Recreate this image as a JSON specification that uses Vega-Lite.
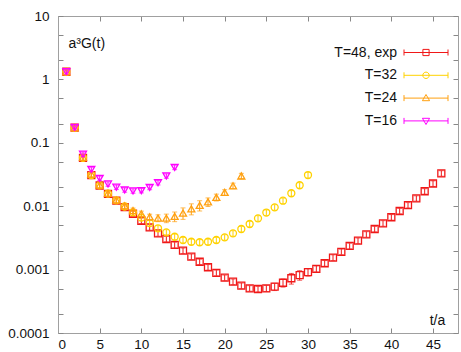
{
  "$schema": "https://vega.github.io/schema/vega-lite/v6.json",
  "width": 400,
  "height": 317,
  "autosize": {"type": "none"},
  "padding": {"left": 58, "top": 16, "right": 3, "bottom": 19},
  "background": "white",
  "config": {
    "font": "Liberation Sans",
    "view": {"stroke": "#a0a0a0", "strokeWidth": 1},
    "axis": {"grid": false, "domainColor": "#a0a0a0", "tickColor": "#888888", "labelColor": "#111", "labelFont": "Liberation Sans", "labelFontSize": 13.5, "titleFont": "Liberation Sans", "titleFontSize": 14, "titleFontWeight": "normal", "titleColor": "#111"},
    "legend": {"labelFont": "Liberation Sans", "labelFontSize": 14, "labelColor": "#111", "labelAlign": "right", "labelOffset": -39.5, "symbolSize": 400, "symbolStrokeWidth": 1, "rowPadding": 4.8, "padding": 0}
  },
  "data": {"values": [
    {"s": "T=48, exp", "t": 1, "g": 1.32, "dg": 0.13},
    {"s": "T=48, exp", "t": 2, "g": 0.173, "dg": 0.017},
    {"s": "T=48, exp", "t": 3, "g": 0.058, "dg": 0.0058},
    {"s": "T=48, exp", "t": 4, "g": 0.031, "dg": 0.0031},
    {"s": "T=48, exp", "t": 5, "g": 0.0212, "dg": 0.0021},
    {"s": "T=48, exp", "t": 6, "g": 0.0157, "dg": 0.0016},
    {"s": "T=48, exp", "t": 7, "g": 0.0122, "dg": 0.0012},
    {"s": "T=48, exp", "t": 8, "g": 0.0097, "dg": 0.001},
    {"s": "T=48, exp", "t": 9, "g": 0.0076, "dg": 0.00076},
    {"s": "T=48, exp", "t": 10, "g": 0.0059, "dg": 0.00059},
    {"s": "T=48, exp", "t": 11, "g": 0.00465, "dg": 0.00047},
    {"s": "T=48, exp", "t": 12, "g": 0.00373, "dg": 0.00037},
    {"s": "T=48, exp", "t": 13, "g": 0.00304, "dg": 0.0003},
    {"s": "T=48, exp", "t": 14, "g": 0.00245, "dg": 0.00025},
    {"s": "T=48, exp", "t": 15, "g": 0.00199, "dg": 0.0002},
    {"s": "T=48, exp", "t": 16, "g": 0.0016, "dg": 0.00016},
    {"s": "T=48, exp", "t": 17, "g": 0.00133, "dg": 0.00013},
    {"s": "T=48, exp", "t": 18, "g": 0.00109, "dg": 0.00011},
    {"s": "T=48, exp", "t": 19, "g": 0.00089, "dg": 0.00009},
    {"s": "T=48, exp", "t": 20, "g": 0.000745, "dg": 0.000075},
    {"s": "T=48, exp", "t": 21, "g": 0.000645, "dg": 0.000065},
    {"s": "T=48, exp", "t": 22, "g": 0.000557, "dg": 0.000056},
    {"s": "T=48, exp", "t": 23, "g": 0.000507, "dg": 0.000051},
    {"s": "T=48, exp", "t": 24, "g": 0.000494, "dg": 0.00005},
    {"s": "T=48, exp", "t": 25, "g": 0.000507, "dg": 0.000055},
    {"s": "T=48, exp", "t": 26, "g": 0.000537, "dg": 0.00007},
    {"s": "T=48, exp", "t": 27, "g": 0.00062, "dg": 0.00009},
    {"s": "T=48, exp", "t": 28, "g": 0.00073, "dg": 0.00014},
    {"s": "T=48, exp", "t": 29, "g": 0.00082, "dg": 0.00014},
    {"s": "T=48, exp", "t": 30, "g": 0.00091, "dg": 0.00012},
    {"s": "T=48, exp", "t": 31, "g": 0.00103, "dg": 0.00011},
    {"s": "T=48, exp", "t": 32, "g": 0.00126, "dg": 0.00013},
    {"s": "T=48, exp", "t": 33, "g": 0.00155, "dg": 0.00016},
    {"s": "T=48, exp", "t": 34, "g": 0.00191, "dg": 0.00019},
    {"s": "T=48, exp", "t": 35, "g": 0.00236, "dg": 0.00024},
    {"s": "T=48, exp", "t": 36, "g": 0.00286, "dg": 0.00029},
    {"s": "T=48, exp", "t": 37, "g": 0.0036, "dg": 0.00036},
    {"s": "T=48, exp", "t": 38, "g": 0.00437, "dg": 0.00044},
    {"s": "T=48, exp", "t": 39, "g": 0.00537, "dg": 0.00054},
    {"s": "T=48, exp", "t": 40, "g": 0.0067, "dg": 0.00067},
    {"s": "T=48, exp", "t": 41, "g": 0.0084, "dg": 0.00084},
    {"s": "T=48, exp", "t": 42, "g": 0.0104, "dg": 0.001},
    {"s": "T=48, exp", "t": 43, "g": 0.0133, "dg": 0.0013},
    {"s": "T=48, exp", "t": 44, "g": 0.0172, "dg": 0.0017},
    {"s": "T=48, exp", "t": 45, "g": 0.0228, "dg": 0.0023},
    {"s": "T=48, exp", "t": 46, "g": 0.033, "dg": 0.0033},
    {"s": "T=32", "t": 1, "g": 1.32, "dg": 0.13},
    {"s": "T=32", "t": 2, "g": 0.173, "dg": 0.017},
    {"s": "T=32", "t": 3, "g": 0.058, "dg": 0.0058},
    {"s": "T=32", "t": 4, "g": 0.031, "dg": 0.0031},
    {"s": "T=32", "t": 5, "g": 0.0213, "dg": 0.0021},
    {"s": "T=32", "t": 6, "g": 0.0158, "dg": 0.0016},
    {"s": "T=32", "t": 7, "g": 0.0124, "dg": 0.0012},
    {"s": "T=32", "t": 8, "g": 0.0099, "dg": 0.001},
    {"s": "T=32", "t": 9, "g": 0.008, "dg": 0.0008},
    {"s": "T=32", "t": 10, "g": 0.0066, "dg": 0.00066},
    {"s": "T=32", "t": 11, "g": 0.0054, "dg": 0.00054},
    {"s": "T=32", "t": 12, "g": 0.00448, "dg": 0.00045},
    {"s": "T=32", "t": 13, "g": 0.00387, "dg": 0.00039},
    {"s": "T=32", "t": 14, "g": 0.0033, "dg": 0.00033},
    {"s": "T=32", "t": 15, "g": 0.00293, "dg": 0.00029},
    {"s": "T=32", "t": 16, "g": 0.00275, "dg": 0.00028},
    {"s": "T=32", "t": 17, "g": 0.0027, "dg": 0.00027},
    {"s": "T=32", "t": 18, "g": 0.00275, "dg": 0.00028},
    {"s": "T=32", "t": 19, "g": 0.00293, "dg": 0.00029},
    {"s": "T=32", "t": 20, "g": 0.00323, "dg": 0.00032},
    {"s": "T=32", "t": 21, "g": 0.00373, "dg": 0.00037},
    {"s": "T=32", "t": 22, "g": 0.00437, "dg": 0.00044},
    {"s": "T=32", "t": 23, "g": 0.00524, "dg": 0.00052},
    {"s": "T=32", "t": 24, "g": 0.00644, "dg": 0.00064},
    {"s": "T=32", "t": 25, "g": 0.00794, "dg": 0.00079},
    {"s": "T=32", "t": 26, "g": 0.0096, "dg": 0.00096},
    {"s": "T=32", "t": 27, "g": 0.0122, "dg": 0.0012},
    {"s": "T=32", "t": 28, "g": 0.016, "dg": 0.0016},
    {"s": "T=32", "t": 29, "g": 0.0214, "dg": 0.0021},
    {"s": "T=32", "t": 30, "g": 0.031, "dg": 0.0031},
    {"s": "T=24", "t": 1, "g": 1.32, "dg": 0.13},
    {"s": "T=24", "t": 2, "g": 0.173, "dg": 0.017},
    {"s": "T=24", "t": 3, "g": 0.059, "dg": 0.0059},
    {"s": "T=24", "t": 4, "g": 0.032, "dg": 0.0032},
    {"s": "T=24", "t": 5, "g": 0.0215, "dg": 0.0021},
    {"s": "T=24", "t": 6, "g": 0.016, "dg": 0.0016},
    {"s": "T=24", "t": 7, "g": 0.0125, "dg": 0.0012},
    {"s": "T=24", "t": 8, "g": 0.0101, "dg": 0.001},
    {"s": "T=24", "t": 9, "g": 0.0085, "dg": 0.00085},
    {"s": "T=24", "t": 10, "g": 0.0076, "dg": 0.00076},
    {"s": "T=24", "t": 11, "g": 0.0068, "dg": 0.00068},
    {"s": "T=24", "t": 12, "g": 0.0065, "dg": 0.0008},
    {"s": "T=24", "t": 13, "g": 0.0065, "dg": 0.001},
    {"s": "T=24", "t": 14, "g": 0.0069, "dg": 0.0012},
    {"s": "T=24", "t": 15, "g": 0.0078, "dg": 0.0016},
    {"s": "T=24", "t": 16, "g": 0.0091, "dg": 0.0018},
    {"s": "T=24", "t": 17, "g": 0.0103, "dg": 0.0019},
    {"s": "T=24", "t": 18, "g": 0.0117, "dg": 0.0018},
    {"s": "T=24", "t": 19, "g": 0.0138, "dg": 0.0017},
    {"s": "T=24", "t": 20, "g": 0.0165, "dg": 0.0017},
    {"s": "T=24", "t": 21, "g": 0.021, "dg": 0.0021},
    {"s": "T=24", "t": 22, "g": 0.03, "dg": 0.003},
    {"s": "T=16", "t": 1, "g": 1.32, "dg": 0.1},
    {"s": "T=16", "t": 2, "g": 0.175, "dg": 0.014},
    {"s": "T=16", "t": 3, "g": 0.066, "dg": 0.0053},
    {"s": "T=16", "t": 4, "g": 0.038, "dg": 0.003},
    {"s": "T=16", "t": 5, "g": 0.0275, "dg": 0.0022},
    {"s": "T=16", "t": 6, "g": 0.0224, "dg": 0.0018},
    {"s": "T=16", "t": 7, "g": 0.0199, "dg": 0.0016},
    {"s": "T=16", "t": 8, "g": 0.018, "dg": 0.0014},
    {"s": "T=16", "t": 9, "g": 0.0174, "dg": 0.0014},
    {"s": "T=16", "t": 10, "g": 0.0176, "dg": 0.0014},
    {"s": "T=16", "t": 11, "g": 0.0198, "dg": 0.0016},
    {"s": "T=16", "t": 12, "g": 0.0235, "dg": 0.0019},
    {"s": "T=16", "t": 13, "g": 0.03, "dg": 0.0024},
    {"s": "T=16", "t": 14, "g": 0.041, "dg": 0.0033}
  ]},
  "encoding": {
    "x": {"field": "t", "type": "quantitative", "scale": {"domain": [0, 48], "nice": false, "zero": false},
      "axis": {"values": [0, 5, 10, 15, 20, 25, 30, 35, 40, 45], "tickSize": -5, "labelPadding": 9, "title": "t/a", "titleX": 379, "titleY": -9, "titleAlign": "center", "titleBaseline": "alphabetic", "titleAnchor": null}},
    "y": {"field": "g", "type": "quantitative", "scale": {"type": "log", "domain": [0.0001, 10], "nice": false},
      "axis": {"values": [0.0001, 0.0002, 0.0005, 0.001, 0.002, 0.005, 0.01, 0.02, 0.05, 0.1, 0.2, 0.5, 1, 2, 5, 10], "format": "~g", "labelExpr": "indexof(['0.0001','0.001','0.01','0.1','1','10'], datum.label) >= 0 ? datum.label : ''", "tickSize": -5, "labelPadding": 14, "title": "a³G(t)", "titleAngle": 0, "titleX": 10, "titleY": 31, "titleAlign": "left", "titleBaseline": "alphabetic", "titleAnchor": null}}
  },
  "resolve": {"axis": {"x": "independent", "y": "independent"}},
  "layer": [
    {
      "encoding": {
        "color": {"field": "s", "type": "nominal", "scale": {"domain": ["T=48, exp", "T=32", "T=24", "T=16"], "range": ["#f01818", "#ffd200", "#ffa010", "#ff00ff"]},
          "legend": {"orient": "none", "legendX": 357.5, "legendY": 26, "direction": "vertical", "title": null}}
      },
      "layer": [
        {"transform": [{"filter": "datum.s == 'T=48, exp'"}], "mark": {"type": "errorbar", "ticks": {"size": 5}, "thickness": 1, "color": "#f01818"}, "encoding": {"color": {"value": "#f01818"}, "yError": {"field": "dg"}}},
        {"transform": [{"filter": "datum.s == 'T=48, exp'"}], "mark": {"type": "point", "shape": "square", "filled": false, "size": 49, "strokeWidth": 1.3, "opacity": 1}},
        {"transform": [{"filter": "datum.s == 'T=32'"}], "mark": {"type": "errorbar", "ticks": {"size": 5}, "thickness": 1, "color": "#ffd200"}, "encoding": {"color": {"value": "#ffd200"}, "yError": {"field": "dg"}}},
        {"transform": [{"filter": "datum.s == 'T=32'"}], "mark": {"type": "point", "shape": "circle", "filled": false, "size": 49, "strokeWidth": 1.3, "opacity": 1}},
        {"transform": [{"filter": "datum.s == 'T=24'"}], "mark": {"type": "errorbar", "ticks": {"size": 5}, "thickness": 1, "color": "#ffa010"}, "encoding": {"color": {"value": "#ffa010"}, "yError": {"field": "dg"}}},
        {"transform": [{"filter": "datum.s == 'T=24'"}], "mark": {"type": "point", "shape": "triangle-up", "filled": false, "size": 49, "strokeWidth": 1.3, "opacity": 1}},
        {"transform": [{"filter": "datum.s == 'T=16'"}], "mark": {"type": "errorbar", "ticks": {"size": 5}, "thickness": 1, "color": "#ff00ff"}, "encoding": {"color": {"value": "#ff00ff"}, "yError": {"field": "dg"}}},
        {"transform": [{"filter": "datum.s == 'T=16'"}], "mark": {"type": "point", "shape": "triangle-down", "filled": false, "size": 49, "strokeWidth": 1.3, "opacity": 1}}
      ]
    },
    {
      "transform": [{"filter": "datum.t < 0"}],
      "mark": {"type": "point", "filled": false, "strokeWidth": 1, "opacity": 1},
      "encoding": {
        "x": {"field": "t", "type": "quantitative", "scale": {"domain": [0, 48], "nice": false, "zero": false},
          "axis": {"orient": "top", "values": [0, 5, 10, 15, 20, 25, 30, 35, 40, 45], "tickSize": -5, "labels": false, "title": null}},
        "y": {"field": "g", "type": "quantitative", "scale": {"type": "log", "domain": [0.0001, 10], "nice": false},
          "axis": {"orient": "right", "values": [0.0001, 0.0002, 0.0005, 0.001, 0.002, 0.005, 0.01, 0.02, 0.05, 0.1, 0.2, 0.5, 1, 2, 5, 10], "tickSize": -5, "labels": false, "title": null}},
        "color": {"field": "s", "type": "nominal", "scale": {"domain": ["T=48, exp", "T=32", "T=24", "T=16"], "range": ["#f01818", "#ffd200", "#ffa010", "#ff00ff"]},
          "legend": {"orient": "none", "legendX": 357.5, "legendY": 26, "direction": "vertical", "title": null}},
        "shape": {"field": "s", "type": "nominal", "scale": {"domain": ["T=48, exp", "T=32", "T=24", "T=16"], "range": [
          "M-2.2,0H2.2M-2.2,-0.3V0.3M2.2,-0.3V0.3M-0.31,-0.31H0.31V0.31H-0.31Z",
          "M-2.2,0H2.2M-2.2,-0.3V0.3M2.2,-0.3V0.3M-0.32,0A0.32,0.32,0,1,1,0.32,0A0.32,0.32,0,1,1,-0.32,0Z",
          "M-2.2,0H2.2M-2.2,-0.3V0.3M2.2,-0.3V0.3M0,-0.36L0.36,0.26L-0.36,0.26Z",
          "M-2.2,0H2.2M-2.2,-0.3V0.3M2.2,-0.3V0.3M0,0.36L0.36,-0.26L-0.36,-0.26Z"]},
          "legend": {"orient": "none", "legendX": 357.5, "legendY": 26, "direction": "vertical", "title": null}}
      }
    }
  ]
}
